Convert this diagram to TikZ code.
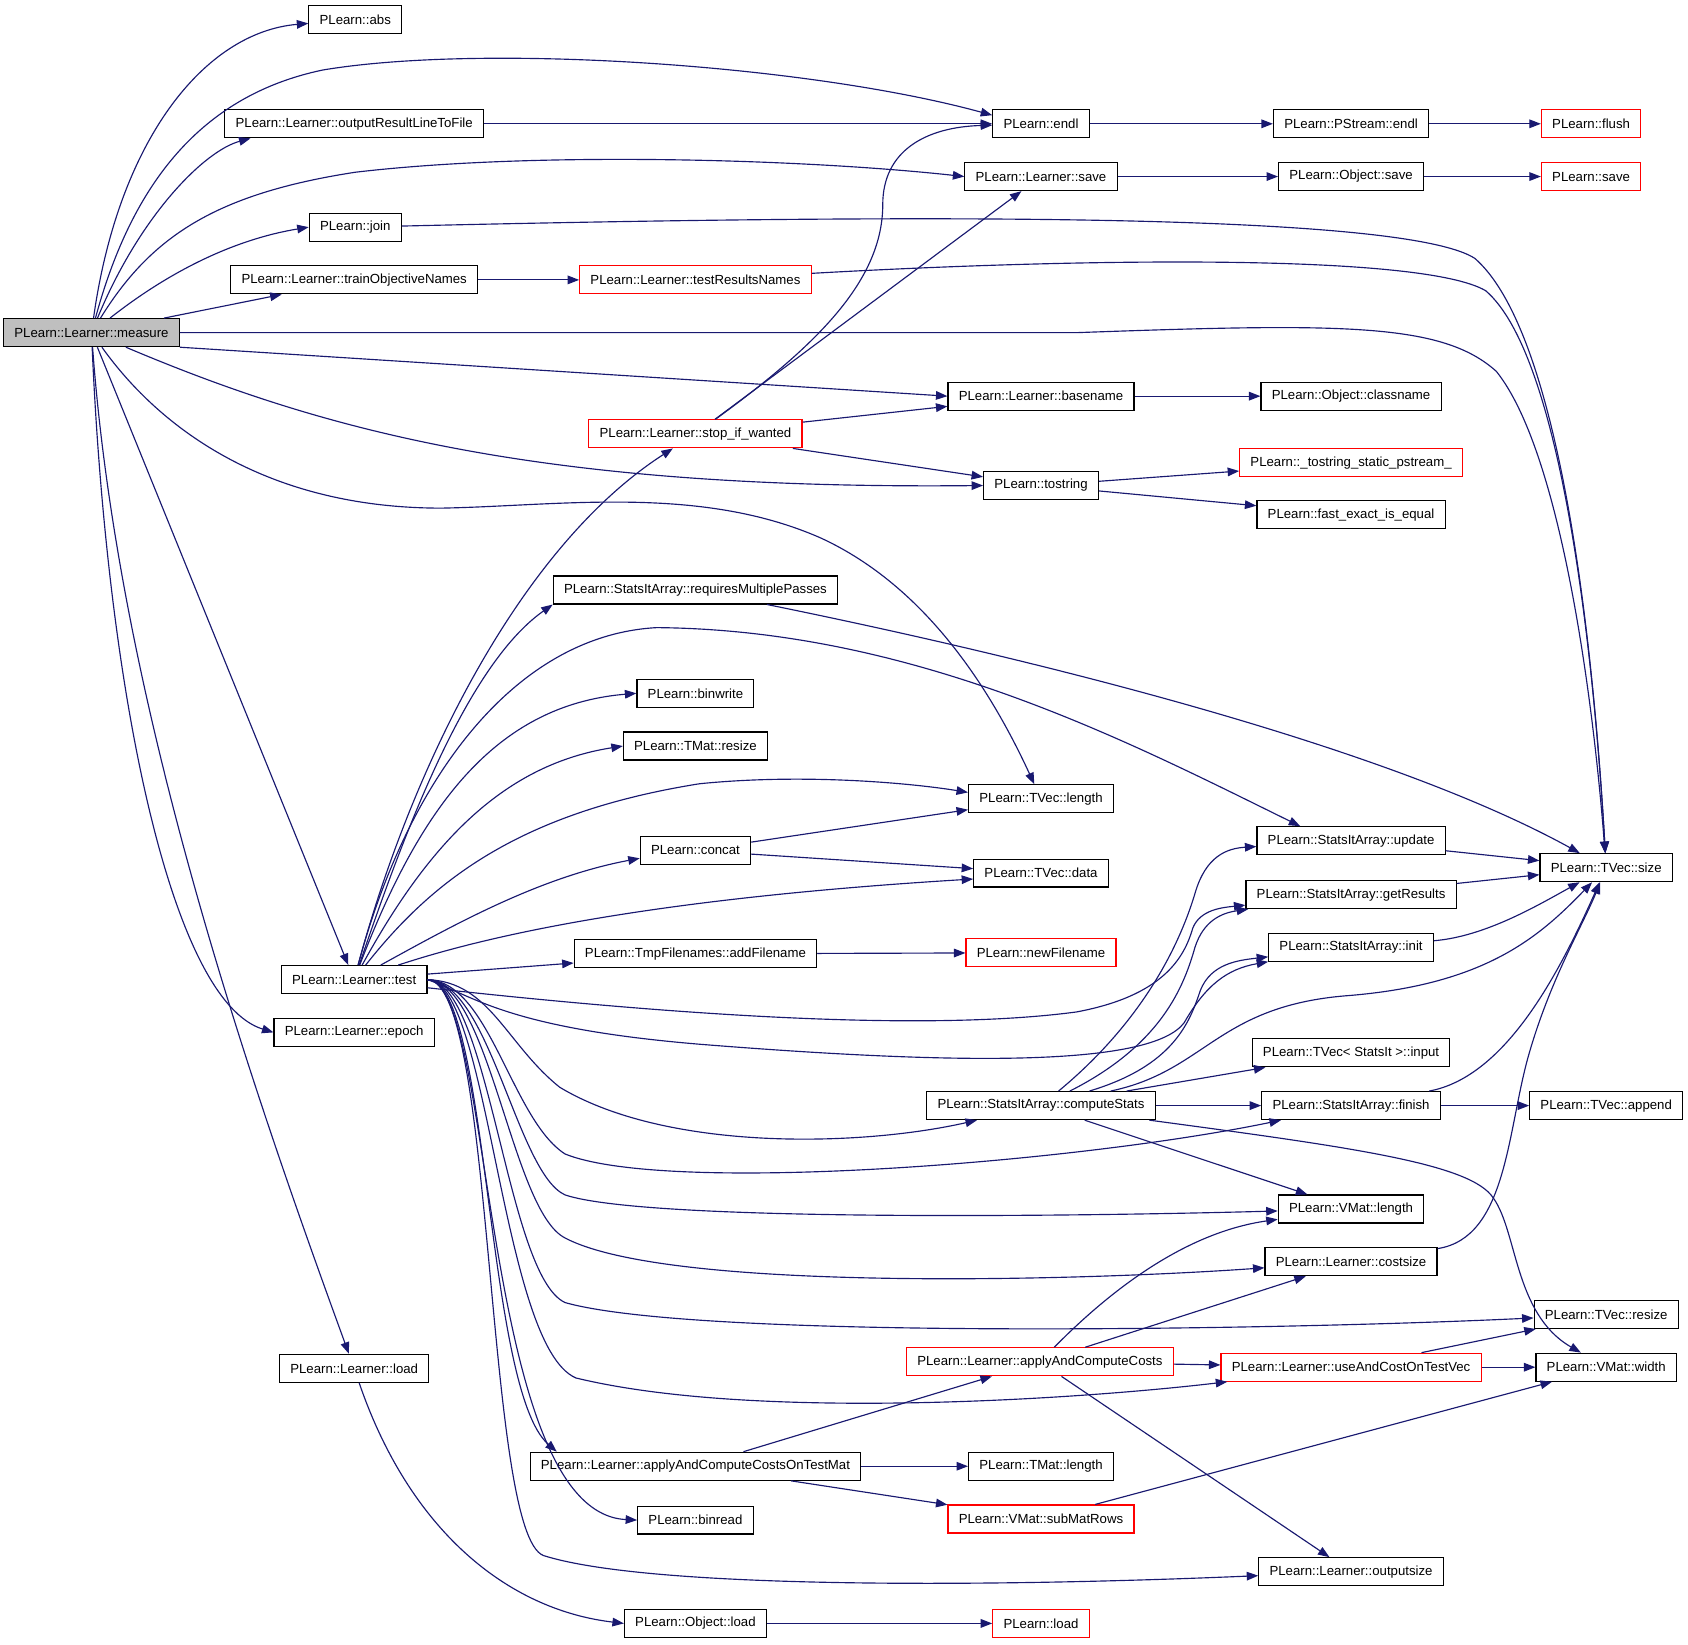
\documentclass[tikz,border=0pt]{standalone}
\usepackage{fontspec}
\setmainfont{Liberation Sans}
\usepackage{tikz}
\usetikzlibrary{arrows.meta}
\definecolor{edgeblue}{HTML}{191970}
\definecolor{rootgray}{HTML}{BFBFBF}

\begin{document}
\begin{tikzpicture}[x=.75pt,y=-.75pt,>={Triangle[length=8pt,width=6pt]},
  font=\fontsize{9.2}{10}\selectfont,
  fn/.style={draw=black,line width=.8pt,minimum height=19.5pt,inner xsep=7.5pt,inner ysep=0pt},
  red fn/.style={fn,draw=red},
  root fn/.style={fn,fill=rootgray},
  link/.style={->,draw=edgeblue,line width=.8pt}]

  \useasboundingbox (0,0) rectangle (1568,1528);

  % first column
  \node[root fn] (m) at (85,309) {PLearn::Learner::measure};

  % second column
  \node[fn] (abs) at (330,18) {PLearn::abs};
  \node[fn] (orl) at (329,115) {PLearn::Learner::outputResultLineToFile};
  \node[fn] (join) at (330,211) {PLearn::join};
  \node[fn] (ton) at (329,260) {PLearn::Learner::trainObjectiveNames};
  \node[fn] (test) at (329,910) {PLearn::Learner::test};
  \node[fn] (epoch) at (329,959) {PLearn::Learner::epoch};
  \node[fn] (lload) at (329,1271) {PLearn::Learner::load};

  % third column
  \node[red fn] (trn) at (646,260) {PLearn::Learner::testResultsNames};
  \node[red fn] (stop) at (646,403) {PLearn::Learner::stop\_if\_wanted};
  \node[fn] (rmp) at (646,548) {PLearn::StatsItArray::requiresMultiplePasses};
  \node[fn] (binw) at (646,644) {PLearn::binwrite};
  \node[fn] (tmres) at (646,693) {PLearn::TMat::resize};
  \node[fn] (concat) at (646,790) {PLearn::concat};
  \node[fn] (addf) at (646,886) {PLearn::TmpFilenames::addFilename};
  \node[fn] (accm) at (646,1362) {PLearn::Learner::applyAndComputeCostsOnTestMat};
  \node[fn] (binr) at (646,1412) {PLearn::binread};
  \node[fn] (oload) at (646,1508) {PLearn::Object::load};

  % fourth column
  \node[fn] (endl) at (967,115) {PLearn::endl};
  \node[fn] (lsave) at (967,164) {PLearn::Learner::save};
  \node[fn] (bname) at (967,368) {PLearn::Learner::basename};
  \node[fn] (tostr) at (967,451) {PLearn::tostring};
  \node[fn] (tvlen) at (967,742) {PLearn::TVec::length};
  \node[fn] (tvdata) at (967,811) {PLearn::TVec::data};
  \node[red fn] (newf) at (967,885) {PLearn::newFilename};
  \node[fn] (cstats) at (967,1027) {PLearn::StatsItArray::computeStats};
  \node[red fn] (acc) at (966,1265) {PLearn::Learner::applyAndComputeCosts};
  \node[fn] (tmlen) at (967,1362) {PLearn::TMat::length};
  \node[red fn] (smr) at (967,1411) {PLearn::VMat::subMatRows};
  \node[red fn] (load) at (967,1508) {PLearn::load};

  % fifth column
  \node[fn] (psendl) at (1255,115) {PLearn::PStream::endl};
  \node[fn] (osave) at (1255,164) {PLearn::Object::save};
  \node[fn] (cname) at (1255,368) {PLearn::Object::classname};
  \node[red fn] (tsp) at (1255,430) {PLearn::\_tostring\_static\_pstream\_};
  \node[fn] (feq) at (1255,478) {PLearn::fast\_exact\_is\_equal};
  \node[fn] (upd) at (1255,781) {PLearn::StatsItArray::update};
  \node[fn] (getres) at (1255,831) {PLearn::StatsItArray::getResults};
  \node[fn] (init) at (1255,880) {PLearn::StatsItArray::init};
  \node[fn] (input) at (1255,978) {PLearn::TVec< StatsIt >::input};
  \node[fn] (finish) at (1255,1027) {PLearn::StatsItArray::finish};
  \node[fn] (vmlen) at (1255,1123) {PLearn::VMat::length};
  \node[fn] (csize) at (1255,1172) {PLearn::Learner::costsize};
  \node[red fn] (usec) at (1255,1270) {PLearn::Learner::useAndCostOnTestVec};
  \node[fn] (osize) at (1255,1460) {PLearn::Learner::outputsize};

  % last column
  \node[red fn] (flush) at (1478,115) {PLearn::flush};
  \node[red fn] (save) at (1478,164) {PLearn::save};
  \node[fn] (size) at (1492,806) {PLearn::TVec::size};
  \node[fn] (append) at (1492,1027) {PLearn::TVec::append};
  \node[fn] (tvres) at (1492,1221) {PLearn::TVec::resize};
  \node[fn] (vmwid) at (1492,1270) {PLearn::VMat::width};

  % straight calls
  \path (m) edge[link] (ton)
        (m.south east) edge[link] (bname.west)
        (m) edge[link] (test)
        (orl) edge[link] (endl)
        (ton) edge[link] (trn)
        (endl) edge[link] (psendl)
        (psendl) edge[link] (flush)
        (lsave) edge[link] (osave)
        (osave) edge[link] (save)
        (bname) edge[link] (cname)
        (stop) edge[link] (lsave)
        (stop) edge[link] (bname)
        (stop) edge[link] (tostr)
        (tostr) edge[link] (tsp)
        (tostr) edge[link] (feq)
        (test) edge[link] (addf)
        (concat) edge[link] (tvlen)
        (concat) edge[link] (tvdata)
        (addf) edge[link] (newf)
        (upd) edge[link] (size)
        (getres) edge[link] (size)
        (cstats) edge[link] (input)
        (cstats) edge[link] (finish)
        (cstats) edge[link] (vmlen)
        (finish) edge[link] (append)
        (acc) edge[link] (csize)
        (acc) edge[link] (usec)
        (acc) edge[link] (osize)
        (usec) edge[link] (tvres)
        (usec) edge[link] (vmwid)
        (accm) edge[link] (acc)
        (accm) edge[link] (tmlen)
        (accm) edge[link] (smr)
        (smr) edge[link] (vmwid)
        (oload) edge[link] (load);

  % curved calls from measure
  \draw[link] (m) .. controls (110,130) and (190,30) .. (abs);
  \draw[link] (m) .. controls (130,200) and (190,140) .. (orl.188);
  \draw[link] (m) .. controls (120,180) and (180,90) .. (300,65) .. controls (450,40) and (750,60) .. (endl.170);
  \draw[link] (m) .. controls (140,220) and (200,180) .. (330,160) .. controls (500,140) and (750,148) .. (lsave.west);
  \draw[link] (m) .. controls (160,250) and (220,222) .. (join.west);
  \draw[link] (m.east) -- (1000,309) .. controls (1250,300) and (1340,300) .. (1390,345) .. controls (1450,420) and (1480,650) .. (size);
  \draw[link] (m) .. controls (300,400) and (500,455) .. (tostr.west);
  \draw[link] (m) .. controls (150,400) and (250,472) .. (410,472) .. controls (520,470) and (650,450) .. (763,500) .. controls (860,545) and (920,640) .. (tvlen);
  \draw[link] (m) .. controls (100,650) and (160,930) .. (epoch.west);
  \draw[link] (m) .. controls (110,650) and (230,1000) .. (lload);

  % curved calls from test
  \draw[link] (test) .. controls (380,720) and (480,510) .. (stop);
  \draw[link] (test) .. controls (370,790) and (430,620) .. (rmp.south west);
  \draw[link] (test) .. controls (380,720) and (480,590) .. (610,583) .. controls (850,585) and (1050,690) .. (upd.164);
  \draw[link] (test) .. controls (390,750) and (460,655) .. (binw.west);
  \draw[link] (test) .. controls (400,780) and (470,710) .. (tmres.west);
  \draw[link] (test) .. controls (400,820) and (480,755) .. (650,728) .. controls (750,718) and (850,728) .. (tvlen.175);
  \draw[link] (test) .. controls (420,860) and (500,815) .. (concat.188);
  \draw[link] (test) .. controls (450,870) and (600,835) .. (tvdata.185);
  \draw[link] (test) .. controls (600,940) and (850,960) .. (1000,940) .. controls (1080,925) and (1100,890) .. (1108,862) .. controls (1115,845) and (1135,843) .. (getres);
  \draw[link] (test.east) .. controls (440,925) and (470,955) .. (650,970) .. controls (900,990) and (1070,990) .. (1100,950) .. controls (1120,915) and (1140,900) .. (init);
  \draw[link] (test.east) .. controls (455,912) and (470,970) .. (520,1010) .. controls (620,1070) and (800,1065) .. (cstats);
  \draw[link] (test.east) .. controls (455,912) and (475,1040) .. (525,1072) .. controls (620,1110) and (1000,1080) .. (finish);
  \draw[link] (test.east) .. controls (455,912) and (480,1090) .. (525,1110) .. controls (600,1135) and (1000,1130) .. (vmlen);
  \draw[link] (test.east) .. controls (455,912) and (475,1125) .. (525,1150) .. controls (620,1200) and (1000,1190) .. (csize);
  \draw[link] (test.east) .. controls (455,912) and (470,1185) .. (525,1210) .. controls (650,1245) and (1200,1235) .. (tvres);
  \draw[link] (test.east) .. controls (455,912) and (465,1250) .. (535,1280) .. controls (700,1320) and (1000,1300) .. (usec);
  \draw[link] (test.east) .. controls (455,912) and (450,1290) .. (accm.174);
  \draw[link] (test.east) .. controls (460,912) and (445,1405) .. (binr.west);
  \draw[link] (test.east) .. controls (460,912) and (450,1425) .. (505,1445) .. controls (600,1475) and (900,1475) .. (osize);

  % other curved calls
  \draw[link] (join) .. controls (800,200) and (1300,195) .. (1370,240) .. controls (1450,310) and (1480,600) .. (size);
  \draw[link] (trn) .. controls (1000,240) and (1320,235) .. (1380,270) .. controls (1450,330) and (1480,600) .. (size);
  \draw[link] (stop) .. controls (760,320) and (820,260) .. (820,190) .. controls (820,140) and (860,118) .. (endl);
  \draw[link] (rmp) .. controls (1000,620) and (1300,700) .. (size);
  \draw[link] (init) .. controls (1380,870) and (1430,840) .. (size);
  \draw[link] (cstats) .. controls (1060,950) and (1095,880) .. (1110,830) .. controls (1120,795) and (1140,788) .. (upd);
  \draw[link] (cstats) .. controls (1080,970) and (1100,915) .. (1110,880) .. controls (1118,855) and (1135,848) .. (getres);
  \draw[link] (cstats) .. controls (1090,990) and (1105,950) .. (1115,920) .. controls (1125,895) and (1150,892) .. (init);
  \draw[link] (cstats) .. controls (1120,995) and (1130,935) .. (1250,925) .. controls (1380,915) and (1430,870) .. (size);
  \draw[link] (cstats) .. controls (1250,1065) and (1360,1080) .. (1385,1110) .. controls (1410,1140) and (1405,1220) .. (vmwid);
  \draw[link] (finish) .. controls (1400,1000) and (1450,900) .. (size);
  \draw[link] (csize) .. controls (1400,1150) and (1400,1050) .. (1420,980) .. controls (1440,910) and (1470,860) .. (size);
  \draw[link] (acc) .. controls (1030,1200) and (1100,1145) .. (vmlen);
  \draw[link] (lload) .. controls (380,1420) and (470,1495) .. (oload.west);
\end{tikzpicture}
\end{document}
